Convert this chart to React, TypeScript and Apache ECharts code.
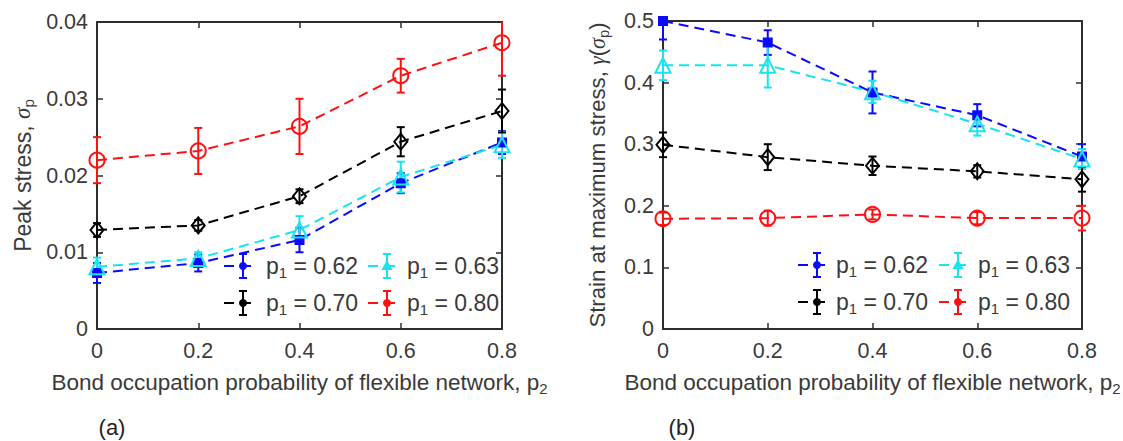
import React, { useEffect, useRef } from 'react';
import * as echarts from 'echarts';

// ---------- data ----------
const p2Values = [0, 0.2, 0.4, 0.6, 0.8];
const p1Labels = ['0.62', '0.63', '0.70', '0.80'];

// (a) Peak stress
const stress062 = [0.0073, 0.0086, 0.0116, 0.019, 0.0243];
const stress062Err = [0.0013, 0.0011, 0.0016, 0.0013, 0.0015];
const stress063 = [0.0081, 0.0092, 0.0129, 0.0198, 0.024];
const stress063Err = [0.0012, 0.0008, 0.0018, 0.002, 0.0017];
const stress070 = [0.0129, 0.0135, 0.0173, 0.0244, 0.0284];
const stress070Err = [0.0009, 0.0007, 0.0009, 0.0019, 0.0028];
const stress080 = [0.022, 0.0232, 0.0264, 0.033, 0.0373];
const stress080Err = [0.003, 0.003, 0.0036, 0.0022, 0.0043];

// (b) Strain at maximum stress
const strain062 = [0.5, 0.465, 0.384, 0.347, 0.28];
const strain062Err = [0.03, 0.02, 0.034, 0.018, 0.02];
const strain063 = [0.428, 0.428, 0.385, 0.333, 0.276];
const strain063Err = [0.024, 0.036, 0.018, 0.019, 0.016];
const strain070 = [0.299, 0.279, 0.265, 0.256, 0.243];
const strain070Err = [0.02, 0.021, 0.015, 0.01, 0.02];
const strain080 = [0.179, 0.18, 0.186, 0.18, 0.18];
const strain080Err = [0.01, 0.012, 0.008, 0.01, 0.02];

const xTicks = { min: 0, max: 0.8, interval: 0.2 };
const stressTicks = { min: 0, max: 0.04, interval: 0.01 };
const strainTicks = { min: 0, max: 0.5, interval: 0.1 };

// ---------- style ----------
const FONT = "'Liberation Sans', Arial, Helvetica, sans-serif";
const SERIF = "'Liberation Serif', 'DejaVu Serif', serif";
const TXT = '#3a3a3a';
const AX = '#2e2e2e';
const COLORS = ['#0a0aff', '#19e3f0', '#000000', '#ff1010'];
const SYMBOLS = ['rect', 'triangle', 'diamond', 'circle'];
const SYMBOL_SIZES: any[] = [8, 15, [13, 16], 15];

const stressSets = [
  [stress062, stress062Err],
  [stress063, stress063Err],
  [stress070, stress070Err],
  [stress080, stress080Err],
];
const strainSets = [
  [strain062, strain062Err],
  [strain063, strain063Err],
  [strain070, strain070Err],
  [strain080, strain080Err],
];

const errorRender = (color: string) => (params: any, api: any) => {
  const x = api.value(0);
  const lo = api.value(1);
  const hi = api.value(2);
  const cs = params.coordSys;
  const top = api.coord([x, hi]);
  const bot = api.coord([x, lo]);
  const cx = top[0];
  const yt = Math.max(top[1], cs.y);
  const yb = Math.min(bot[1], cs.y + cs.height);
  const st = { stroke: color, lineWidth: 2 };
  const children: any[] = [
    { type: 'line', shape: { x1: cx, y1: yt, x2: cx, y2: yb }, style: st },
  ];
  if (top[1] >= cs.y) children.push({ type: 'line', shape: { x1: cx - 4, y1: top[1], x2: cx + 4, y2: top[1] }, style: st });
  if (bot[1] <= cs.y + cs.height) children.push({ type: 'line', shape: { x1: cx - 4, y1: bot[1], x2: cx + 4, y2: bot[1] }, style: st });
  return { type: 'group', children };
};

function buildSeries(sets: any[], xAxisIndex: number, yAxisIndex: number) {
  const out: any[] = [];
  sets.forEach((s: any, i: number) => {
    const mean: number[] = s[0];
    const err: number[] = s[1];
    const c = COLORS[i];
    out.push({
      type: 'custom',
      xAxisIndex,
      yAxisIndex,
      renderItem: errorRender(c),
      encode: { x: 0, y: [1, 2] },
      data: p2Values.map((x, k) => [x, mean[k] - err[k], mean[k] + err[k]]),
      z: 3,
      silent: true,
    });
    out.push({
      type: 'line',
      xAxisIndex,
      yAxisIndex,
      data: p2Values.map((x, k) => [x, mean[k]]),
      symbol: SYMBOLS[i],
      symbolSize: SYMBOL_SIZES[i],
      showSymbol: true,
      lineStyle: { color: c, width: 2, type: [10, 6] },
      itemStyle: {
        color: i === 0 ? c : 'rgba(0,0,0,0)',
        borderColor: c,
        borderWidth: 2,
      },
      z: 3,
      silent: true,
    });
  });
  return out;
}

const xNameRich = {
  t: { fontSize: 22.5, lineHeight: 28, color: TXT, fontFamily: FONT },
  s: { fontSize: 15, lineHeight: 13, color: TXT, fontFamily: FONT, verticalAlign: 'bottom' },
};
const yNameRich = (size: number) => ({
  t: { fontSize: size, lineHeight: size + 4, color: TXT, fontFamily: FONT },
  g: { fontSize: size, lineHeight: size + 4, color: TXT, fontFamily: SERIF, fontStyle: 'italic' },
  s: { fontSize: size * 0.66, lineHeight: size * 0.55, color: TXT, fontFamily: FONT, verticalAlign: 'bottom' },
});

function xAxes(gridIndex: number) {
  const base: any = {
    type: 'value',
    gridIndex,
    ...xTicks,
    axisLine: { show: true, onZero: false, lineStyle: { color: AX, width: 2 } },
    axisTick: { show: true, inside: true, length: 6, lineStyle: { color: AX, width: 1.5 } },
    splitLine: { show: false },
  };
  return [
    {
      ...base,
      position: 'bottom',
      axisLabel: { color: TXT, fontSize: 21.5, fontFamily: FONT, margin: 11 },
      name: '{t|Bond occupation probability of flexible network, p}{s|2}',
      nameLocation: 'middle',
      nameGap: 39,
      nameTextStyle: { rich: xNameRich },
    },
    { ...base, position: 'top', axisLabel: { show: false } },
  ];
}

function yAxes(gridIndex: number, ticks: any, name: string, nameGap: number, nameSize: number) {
  const base: any = {
    type: 'value',
    gridIndex,
    ...ticks,
    axisLine: { show: true, onZero: false, lineStyle: { color: AX, width: 2 } },
    axisTick: { show: true, inside: true, length: 6, lineStyle: { color: AX, width: 1.5 } },
    splitLine: { show: false },
  };
  return [
    {
      ...base,
      position: 'left',
      axisLabel: { color: TXT, fontSize: 21.5, fontFamily: FONT, margin: 9 },
      name,
      nameLocation: 'middle',
      nameGap,
      nameTextStyle: { rich: yNameRich(nameSize) },
    },
    { ...base, position: 'right', axisLabel: { show: false } },
  ];
}

function buildLegend(ex: number[], tx: number[], ty: number[]) {
  const els: any[] = [];
  COLORS.forEach((c, i) => {
    const row = Math.floor(i / 2);
    const col = i % 2;
    const x = ex[col];
    const y = ty[row];
    const st = { stroke: c, lineWidth: 2 };
    els.push({ type: 'line', silent: true, shape: { x1: x - 19, y1: y, x2: x + 15, y2: y }, style: { stroke: c, lineWidth: 2, lineDash: [10, 7] } });
    els.push({ type: 'line', silent: true, shape: { x1: x, y1: y - 12, x2: x, y2: y + 12 }, style: st });
    els.push({ type: 'line', silent: true, shape: { x1: x - 4, y1: y - 12, x2: x + 4, y2: y - 12 }, style: st });
    els.push({ type: 'line', silent: true, shape: { x1: x - 4, y1: y + 12, x2: x + 4, y2: y + 12 }, style: st });
    if (i === 1) {
      els.push({ type: 'polygon', silent: true, shape: { points: [[x, y - 6], [x - 5.5, y + 4], [x + 5.5, y + 4]] }, style: { fill: c } });
    } else {
      els.push({ type: 'circle', silent: true, shape: { cx: x, cy: y, r: 4 }, style: { fill: c } });
    }
    els.push({
      type: 'text',
      silent: true,
      x: tx[col],
      y,
      style: {
        text: '{a|p}{s|1}{a| = ' + p1Labels[i] + '}',
        rich: {
          a: { fontSize: 23, lineHeight: 28, fill: TXT, fontFamily: FONT },
          s: { fontSize: 15, lineHeight: 13, fill: TXT, fontFamily: FONT, verticalAlign: 'bottom' },
        },
        fill: TXT,
        align: 'left',
        verticalAlign: 'middle',
        textAlign: 'left',
        textVerticalAlign: 'middle',
      },
    });
  });
  return els;
}

export default function App() {
  const ref = useRef<HTMLDivElement>(null);
  useEffect(() => {
    if (!ref.current) return;
    const chart = echarts.init(ref.current, undefined, { renderer: 'svg' });
    const option: any = {
      animation: false,
      backgroundColor: '#ffffff',
      grid: [
        { left: 97, top: 22, width: 405, height: 307, containLabel: false, outerBoundsMode: 'none' },
        { left: 663, top: 21, width: 419, height: 308, containLabel: false, outerBoundsMode: 'none' },
      ],
      xAxis: [...xAxes(0), ...xAxes(1)],
      yAxis: [
        ...yAxes(0, stressTicks, '{t|Peak stress, }{g|σ}{s|p}', 61, 23),
        ...yAxes(1, strainTicks, '{t|Strain at maximum stress, }{g|γ}{t|(}{g|σ}{s|p}{t|)}', 52, 22.2),
      ],
      series: [...buildSeries(stressSets, 0, 0), ...buildSeries(strainSets, 2, 2)],
      graphic: [
        ...buildLegend([243, 387], [266, 407], [266, 303]),
        ...buildLegend([817, 958], [836, 978], [265, 302]),
        {
          type: 'text', silent: true, x: 112, y: 427,
          style: { text: '(a)', fontSize: 22, fontFamily: FONT, fill: '#222', align: 'center', verticalAlign: 'middle', textAlign: 'center', textVerticalAlign: 'middle' },
        },
        {
          type: 'text', silent: true, x: 682, y: 427,
          style: { text: '(b)', fontSize: 22, fontFamily: FONT, fill: '#222', align: 'center', verticalAlign: 'middle', textAlign: 'center', textVerticalAlign: 'middle' },
        },
      ],
    };
    chart.setOption(option);
    return () => chart.dispose();
  }, []);
  return (
    <div
      ref={ref}
      style={{ position: 'absolute', left: 0, top: 0, width: 1123, height: 441, background: '#fff' }}
    />
  );
}
